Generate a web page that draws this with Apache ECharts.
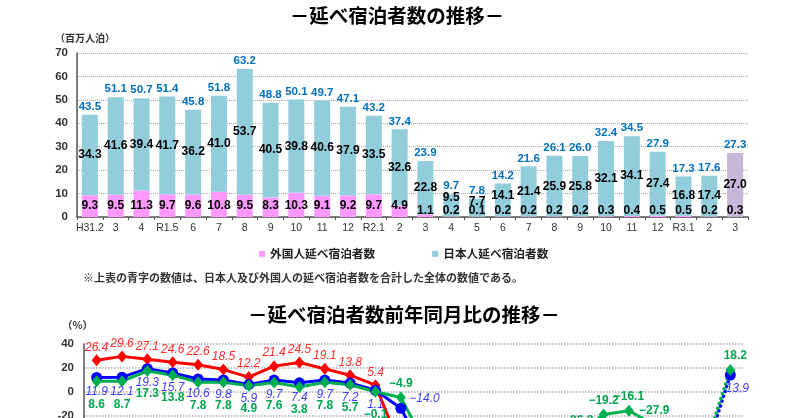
<!DOCTYPE html>
<html><head><meta charset="utf-8">
<script src="https://cdn.jsdelivr.net/npm/echarts@6/dist/echarts.min.js"></script>
<style>html,body{margin:0;padding:0;background:#fff}#c{width:800px;height:418px}</style>
</head><body><div id="c"></div>
<script>
// ---- data ----
const months = ['H31.2','3','4','R1.5','6','7','8','9','10','11','12','R2.1','2','3','4','5','6','7','8','9','10','11','12','R3.1','2','3'];
const foreignStays = [9.3,9.5,11.3,9.7,9.6,10.8,9.5,8.3,10.3,9.1,9.2,9.7,4.9,1.1,0.2,0.1,0.2,0.2,0.2,0.2,0.3,0.4,0.5,0.5,0.2,0.3];
const japaneseStays = [34.3,41.6,39.4,41.7,36.2,41.0,53.7,40.5,39.8,40.6,37.9,33.5,32.6,22.8,9.5,7.7,14.1,21.4,25.9,25.8,32.1,34.1,27.4,16.8,17.4,27.0];
const totalStays = [43.5,51.1,50.7,51.4,45.8,51.8,63.2,48.8,50.1,49.7,47.1,43.2,37.4,23.9,9.7,7.8,14.2,21.6,26.1,26.0,32.4,34.5,27.9,17.3,17.6,27.3];
// year-on-year change (%)
const yoyForeign = [26.4,29.6,27.1,24.6,22.6,18.5,12.2,21.4,24.5,19.1,13.8,5.4,-47.3,-88.4,-98.2,-99.0,-97.9,-98.1,-97.9,-97.6,-97.1,-95.6,-94.6,-94.8,-95.9,-72.7];
const yoyTotal = [11.9,12.1,19.3,15.7,10.6,9.8,5.9,9.7,7.4,9.7,7.2,1.1,-14.0,-53.2,-80.9,-84.8,-69.0,-58.3,-58.7,-46.7,-35.3,-30.6,-40.8,-60.0,-52.9,13.9];
const yoyJapanese = [8.6,8.7,17.3,13.8,7.8,7.8,4.9,7.6,3.8,7.8,5.7,-0.1,-4.9,-45.2,-75.9,-81.5,-61.0,-47.8,-51.8,-36.3,-19.2,-16.1,-27.9,-49.9,-46.6,18.2];
const legendNames = ['外国人延べ宿泊者数','日本人延べ宿泊者数'];

// ---- helpers ----
const NUM = "'Liberation Sans', Arial, sans-serif";
const JP = "'Noto Sans CJK JP', sans-serif";
const fmt = p => (typeof p.value === 'number' ? p.value.toFixed(1) : '').replace('-', '−');
const lastIdx = months.length - 1;
const covidStart = 12;

const japData = japaneseStays.map((v, i) => {
  const item = { value: v };
  if (v < 12) item.label = { position: 'insideTop', distance: -3 };
  else if (v < 16) item.label = { offset: [0, -4] };
  if (i === lastIdx) item.itemStyle = { color: '#c9b6d8' };
  return item;
});
const forData = foreignStays.map((v, i) => {
  const item = { value: v, label: { distance: v >= 3 ? 5 : 0 } };
  if (i === lastIdx) item.itemStyle = { color: '#c9b6d8' };
  return item;
});

function solidPart(arr, labelFn) {
  return arr.map((v, i) => {
    if (i >= lastIdx) return '-';
    const item = { value: v };
    const l = labelFn ? labelFn(i) : null;
    if (l) item.label = l;
    return item;
  });
}
function dottedPart(arr, lastLabel) {
  return arr.map((v, i) => {
    if (i < lastIdx - 1) return '-';
    if (i === lastIdx - 1) return { value: v, symbol: 'none', label: { show: false } };
    return { value: v, label: lastLabel || {} };
  });
}

const RED = '#ff0000', BLUE = '#0000ff', GREEN = '#00b050';
const redLabel = { show: true, position: 'top', distance: 1, color: '#ff2a2a', fontStyle: 'italic', fontSize: 12, fontFamily: NUM, formatter: fmt };
const blueLabel = { show: true, position: 'bottom', distance: 3, color: '#3c3cff', fontStyle: 'italic', fontSize: 12, fontFamily: NUM, formatter: fmt };
const greenLabel = { show: true, position: 'bottom', distance: 11, color: '#00a64f', fontWeight: 'bold', fontSize: 12, fontFamily: NUM, formatter: fmt };

function lineSeries(name, data, color, symbol, size, label, dotted) {
  return {
    name, type: 'line', xAxisIndex: 1, yAxisIndex: 1, data,
    symbol, symbolSize: size, showAllSymbol: true,
    connectNulls: false,
    lineStyle: dotted ? { color, width: 3.5, type: [0.1, 5], cap: 'round' } : { color, width: 3 },
    itemStyle: { color },
    label, emphasis: { disabled: true }
  };
}

const chart = echarts.init(document.getElementById('c'));
chart.setOption({
  animation: false,
  backgroundColor: '#fff',
  textStyle: { fontFamily: NUM },
  graphic: [
    { type: 'text', x: 397, y: 16, style: { text: '－延べ宿泊者数の推移－', font: "bold 19.5px 'Noto Sans CJK JP'", fill: '#000', align: 'center', verticalAlign: 'middle' } },
    { type: 'text', x: 55, y: 38, style: { text: '（百万人泊）', font: "bold 10px 'Noto Sans CJK JP'", fill: '#333', align: 'left', verticalAlign: 'middle' } },
    { type: 'text', x: 83, y: 278, style: { text: '※上表の青字の数値は、日本人及び外国人の延べ宿泊者数を合計した全体の数値である。', font: "bold 11px 'Noto Sans CJK JP'", fill: '#333', align: 'left', verticalAlign: 'middle' } },
    { type: 'text', x: 404, y: 315, style: { text: '－延べ宿泊者数前年同月比の推移－', font: "bold 19.5px 'Noto Sans CJK JP'", fill: '#000', align: 'center', verticalAlign: 'middle' } },
    { type: 'text', x: 62, y: 325, style: { text: '（%）', font: "bold 10.5px 'Noto Sans CJK JP'", fill: '#333', align: 'left', verticalAlign: 'middle' } }
  ],
  legend: {
    data: legendNames, left: 254, top: 243, itemWidth: 6, itemHeight: 6, itemGap: 57, icon: 'rect',
    textStyle: { fontFamily: JP, fontSize: 11.7, fontWeight: 'bold', color: '#222' },
    selectedMode: false
  },
  grid: [
    { left: 77, right: 52, top: 53, height: 164, outerBoundsMode: 'none', containLabel: false },
    { left: 84, right: 57, top: 344, height: 166.6, outerBoundsMode: 'none', containLabel: false }
  ],
  xAxis: [
    { type: 'category', gridIndex: 0, data: months,
      axisLine: { lineStyle: { color: '#555', width: 1.5 } },
      axisTick: { show: true, length: 3, lineStyle: { color: '#555' } },
      axisLabel: { fontSize: 10.5, color: '#333', margin: 6, interval: 0, fontFamily: NUM } },
    { type: 'category', gridIndex: 1, data: months, boundaryGap: true,
      axisLine: { show: false }, axisTick: { show: false }, axisLabel: { show: false } }
  ],
  yAxis: [
    { type: 'value', gridIndex: 0, min: 0, max: 70, interval: 10,
      axisLine: { show: true, lineStyle: { color: '#555', width: 1.5 } },
      axisTick: { show: false },
      axisLabel: { fontSize: 11.5, color: '#333', margin: 9, fontWeight: 'bold', fontFamily: NUM },
      splitLine: { lineStyle: { color: '#aaa', type: 'dotted', width: 1 } } },
    { type: 'value', gridIndex: 1, min: -100, max: 40, interval: 20,
      axisLine: { show: true, lineStyle: { color: '#555', width: 1.5 } },
      axisTick: { show: false },
      axisLabel: { fontSize: 11.5, color: '#333', margin: 10, fontWeight: 'bold', fontFamily: NUM },
      splitLine: { lineStyle: { color: '#aaa', type: 'dotted', width: 1.5 } } }
  ],
  series: [
    { name: legendNames[0], type: 'bar', stack: 'stays', data: forData, barWidth: 16,
      itemStyle: { color: '#ff99ff' },
      label: { show: true, position: 'insideBottom', distance: 3, color: '#000', fontWeight: 'bold', fontSize: 12, formatter: fmt } },
    { name: legendNames[1], type: 'bar', stack: 'stays', data: japData, barWidth: 16,
      itemStyle: { color: '#92cddc' },
      label: { show: true, position: 'inside', color: '#000', fontWeight: 'bold', fontSize: 12, formatter: fmt } },
    { name: 'total', type: 'bar', data: totalStays, barWidth: 16, barGap: '-100%', z: 1,
      itemStyle: { color: 'rgba(0,0,0,0)' },
      label: { show: true, position: 'top', distance: 2, color: '#0070c0', fontWeight: 'bold', fontSize: 11.5, formatter: fmt } },

    lineSeries('yoyForeign', solidPart(yoyForeign), RED, 'diamond', [10, 12], redLabel, false),
    lineSeries('yoyForeignDot', dottedPart(yoyForeign), RED, 'diamond', [10, 12], redLabel, true),
    lineSeries('yoyTotal', solidPart(yoyTotal, i => i === covidStart ? { position: 'right', offset: [0, -10] } : null), BLUE, 'circle', 11, blueLabel, false),
    lineSeries('yoyTotalDot', dottedPart(yoyTotal, { position: 'bottom', distance: 2, offset: [7, 0] }), BLUE, 'circle', 11, blueLabel, true),
    lineSeries('yoyJapanese', solidPart(yoyJapanese, i => i >= covidStart ? { position: 'top', distance: 2 } : null), GREEN, 'diamond', [10, 12], greenLabel, false),
    lineSeries('yoyJapaneseDot', dottedPart(yoyJapanese, { position: 'top', distance: 2, offset: [5, 0] }), GREEN, 'diamond', [10, 12], greenLabel, true)
  ]
});
</script>
</body></html>
